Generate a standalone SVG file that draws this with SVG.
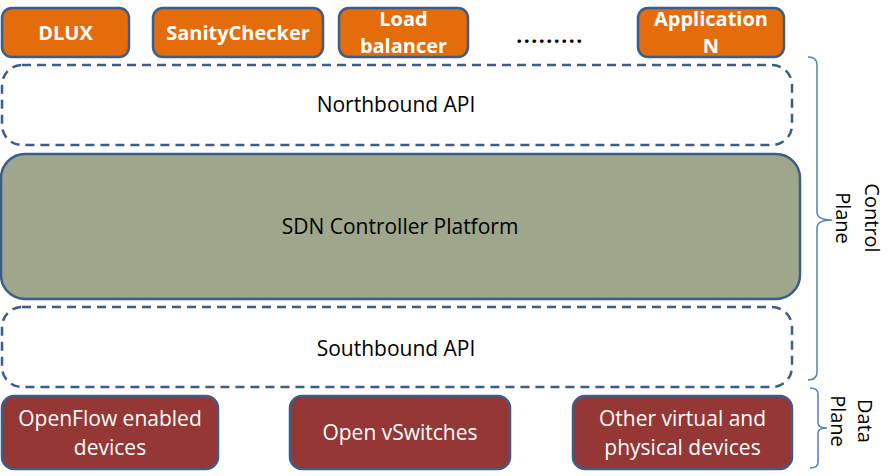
<svg xmlns="http://www.w3.org/2000/svg" width="888" height="476" viewBox="0 0 888 476">
<style>
.app{fill:#E46C0A;stroke:#3A5D8A;stroke-width:2.5}
.dev{fill:#953735;stroke:#3A5D8A;stroke-width:2.5}
.api{fill:none;stroke:#3A5D8A;stroke-width:2.5;stroke-dasharray:9 6}
.ctl{fill:#9EA68C;stroke:#3A5D8A;stroke-width:2.5}
.brace{fill:none;stroke:#4F81BD;stroke-width:1.5}
.tb{font-family:"Open Sans","Liberation Sans",sans-serif;font-weight:bold;font-size:20px;fill:#fff;text-anchor:middle}
.tw{font-family:"Open Sans","Liberation Sans",sans-serif;font-size:21px;fill:#fff;text-anchor:middle}
.tk{font-family:"Open Sans","Liberation Sans",sans-serif;font-size:21px;fill:#000;text-anchor:middle}
.ts{font-family:"Open Sans","Liberation Sans",sans-serif;font-size:20px;fill:#000;text-anchor:middle}
</style>
<g id="dlux"><rect class="app" x="2" y="8" width="127" height="49" rx="10"/><text class="tb" x="65.5" y="40">DLUX</text></g>
<g id="sanity"><rect class="app" x="153" y="8" width="170" height="49" rx="10"/><text class="tb" x="238" y="40">SanityChecker</text></g>
<g id="loadbalancer"><rect class="app" x="339" y="8" width="129" height="49" rx="10"/><text class="tb" x="403.5" y="26">Load</text><text class="tb" x="403.5" y="53">balancer</text></g>
<g id="dots"><text class="tk" x="550" y="43" style="font-weight:bold;letter-spacing:1.5px">.........</text></g>
<g id="appn"><rect class="app" x="638" y="8" width="146" height="49" rx="10"/><text class="tb" x="711" y="26">Application</text><text class="tb" x="711" y="53">N</text></g>
<g id="northbound"><rect class="api" x="2" y="65" width="790" height="80" rx="20"/><text class="tk" x="396" y="112">Northbound API</text></g>
<g id="controller"><rect class="ctl" x="1" y="154" width="799" height="145" rx="24"/><text class="tk" x="400" y="234">SDN Controller Platform</text></g>
<g id="southbound"><rect class="api" x="2" y="307" width="790" height="80" rx="20"/><text class="tk" x="396" y="356">Southbound API</text></g>
<g id="openflow"><rect class="dev" x="2" y="396" width="216" height="73" rx="12"/><text class="tw" x="110" y="426">OpenFlow enabled</text><text class="tw" x="110" y="455">devices</text></g>
<g id="ovs"><rect class="dev" x="290" y="396" width="220" height="73" rx="12"/><text class="tw" x="400" y="440">Open vSwitches</text></g>
<g id="other"><rect class="dev" x="573" y="396" width="219" height="73" rx="12"/><text class="tw" x="682.5" y="426">Other virtual and</text><text class="tw" x="682.5" y="455">physical devices</text></g>
<g id="controlplane"><path class="brace" d="M808,57 Q817,57 817,65 V212 Q817,220 832,220 Q817,220 817,228 V372 Q817,380 808,380"/><text class="ts" transform="translate(865,218) rotate(90)">Control</text><text class="ts" transform="translate(836,218) rotate(90)">Plane</text></g>
<g id="dataplane"><path class="brace" d="M810,388 Q818,388 818,394 V423 Q818,428 827,428 Q818,428 818,433 V462 Q818,468 810,468"/><text class="ts" transform="translate(858,421) rotate(90)">Data</text><text class="ts" transform="translate(831,421) rotate(90)">Plane</text></g>
</svg>
